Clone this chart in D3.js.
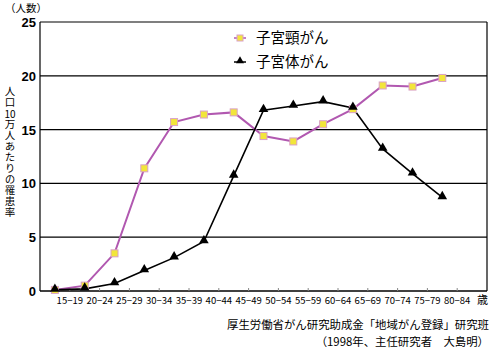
<!DOCTYPE html>
<html>
<head>
<meta charset="utf-8">
<script src="https://cdn.jsdelivr.net/npm/d3@7"></script>
<style>
  body { margin: 0; background: #fff; }
  svg text { font-family: "Noto Sans CJK JP", "Noto Sans", sans-serif; }
  .vert { writing-mode: vertical-rl; text-orientation: upright; }
</style>
</head>
<body>
<svg id="chart" width="492" height="352"></svg>
<script>
// age groups and values (per 100k)
var ages = ["15-19", "20-24", "25-29", "30-34", "35-39", "40-44", "45-49",
            "50-54", "55-59", "60-64", "65-69", "70-74", "75-79", "80-84"];
var cervix = [0.1, 0.5, 3.5, 11.4, 15.7, 16.4, 16.6, 14.4, 13.9, 15.5, 16.9, 19.1, 19.0, 19.8];
var corpus = [0.1, 0.2, 0.7, 1.9, 3.1, 4.6, 10.7, 16.8, 17.2, 17.6, 17.0, 13.2, 10.9, 8.7];
var yTicks = [0, 5, 10, 15, 20, 25];
var seriesNames = ["子宮頸がん", "子宮体がん"];
// vertical title in three pieces; the middle "10" is set horizontally
var yTitleParts = ["人口", "10", "万人あたりの罹患率"];
var sourceLines = ["厚生労働省がん研究助成金「地域がん登録」研究班", "（1998年、主任研究者　大島明）"];

var svg = d3.select("#chart");
// note: "top" is taken by window.top, so plot_* names
var plot_left = 40, plot_right = 487, plot_top = 22, plot_bottom = 291;

// extra slot at the end, the chart leaves one empty band after the last point
var x_scale = d3.scaleBand().domain(ages.concat(["歳"])).range([plot_left, plot_right]);
var bw = x_scale.bandwidth();
var y_scale = d3.scaleLinear().domain([0, 25]).range([plot_bottom, plot_top]);

// gridlines
svg.selectAll("line.grid")
    .data(yTicks.filter(function(d) { return d > 0; }))
    .enter()
    .append("line")
    .attr("class", "grid")
    .attr("x1", plot_left).attr("x2", plot_right)
    .attr("y1", function(d) { return y_scale(d); })
    .attr("y2", function(d) { return y_scale(d); })
    .attr("stroke", "#000").attr("stroke-width", 1.2);

// frame: left axis, right border, bottom axis
svg.append("line").attr("x1", plot_left).attr("x2", plot_left).attr("y1", plot_top).attr("y2", plot_bottom)
    .attr("stroke", "#000").attr("stroke-width", 1.2);
svg.append("line").attr("x1", plot_right).attr("x2", plot_right).attr("y1", plot_top).attr("y2", plot_bottom)
    .attr("stroke", "#000").attr("stroke-width", 1.2);
svg.append("line").attr("x1", plot_left).attr("x2", plot_right).attr("y1", plot_bottom).attr("y2", plot_bottom)
    .attr("stroke", "#000").attr("stroke-width", 1.5);

// small ticks at band edges
svg.selectAll("line.xtick")
    .data(ages)
    .enter()
    .append("line")
    .attr("class", "xtick")
    .attr("x1", function(d) { return x_scale(d) + bw; })
    .attr("x2", function(d) { return x_scale(d) + bw; })
    .attr("y1", plot_bottom - 3).attr("y2", plot_bottom)
    .attr("stroke", "#888");

// x labels (sit on the right edge of each band, like the original)
svg.selectAll("text.xlab")
    .data(ages)
    .enter()
    .append("text")
    .attr("class", "xlab")
    .attr("x", function(d) { return x_scale(d) + bw; })
    .attr("y", 304)
    .attr("text-anchor", "middle")
    .attr("font-size", 9.5)
    .text(function(d) { return d.replace("-", "−"); });
svg.append("text")
    .attr("x", 488).attr("y", 304)
    .attr("text-anchor", "end")
    .attr("font-size", 11)
    .text("歳");

// y labels
svg.selectAll("text.ylab")
    .data(yTicks)
    .enter()
    .append("text")
    .attr("class", "ylab")
    .attr("x", 36)
    .attr("y", function(d) { return y_scale(d) + 5; })
    .attr("text-anchor", "end")
    .attr("font-size", 13)
    .attr("font-weight", "bold")
    .style("font-family", "'Liberation Sans', Arial, sans-serif")
    .text(function(d) { return d; });

svg.append("text")
    .attr("x", 26).attr("y", 12)
    .attr("text-anchor", "middle")
    .attr("font-size", 10.5)
    .text("（人数）");

// vertical axis title
svg.append("text").attr("class", "vert")
    .attr("x", 10).attr("y", 86)
    .attr("font-size", 10.5).attr("letter-spacing", 0.5)
    .text(yTitleParts[0]);
svg.append("text")
    .attr("x", 10).attr("y", 118)
    .attr("text-anchor", "middle")
    .attr("font-size", 10)
    .text(yTitleParts[1]);
svg.append("text").attr("class", "vert")
    .attr("x", 10).attr("y", 119)
    .attr("font-size", 10.5).attr("letter-spacing", 0.5)
    .text(yTitleParts[2]);

// lines
var line = d3.line()
    .x(function(d, i) { return x_scale(ages[i]) + bw / 2; })
    .y(function(d) { return y_scale(d); });

svg.append("path").datum(cervix)
    .attr("d", line)
    .attr("fill", "none")
    .attr("stroke", "#b158b0")
    .attr("stroke-width", 2);
svg.append("path").datum(corpus)
    .attr("d", line)
    .attr("fill", "none")
    .attr("stroke", "#000")
    .attr("stroke-width", 1.6);

var tri = d3.symbol().type(d3.symbolTriangle).size(40);

svg.selectAll("rect.cerv")
    .data(cervix)
    .enter()
    .append("rect")
    .attr("class", "cerv")
    .attr("x", function(d, i) { return x_scale(ages[i]) + bw / 2 - 3.5; })
    .attr("y", function(d) { return y_scale(d) - 3.5; })
    .attr("width", 7).attr("height", 7)
    .attr("fill", "#f2e63a")
    .attr("stroke", "#d9a0c8")
    .attr("stroke-width", 1);

svg.selectAll("path.corp")
    .data(corpus)
    .enter()
    .append("path")
    .attr("class", "corp")
    .attr("d", tri)
    .attr("transform", function(d, i) {
        return "translate(" + (x_scale(ages[i]) + bw / 2) + "," + (y_scale(d) - 1) + ")";
    })
    .attr("fill", "#000");

// legend
var leg = svg.append("g");
leg.append("line").attr("x1", 234).attr("x2", 246).attr("y1", 38).attr("y2", 38)
    .attr("stroke", "#b158b0").attr("stroke-width", 1.5);
leg.append("rect").attr("x", 237).attr("y", 35).attr("width", 6).attr("height", 6)
    .attr("fill", "#f2e63a").attr("stroke", "#d9a0c8");
leg.append("line").attr("x1", 234).attr("x2", 246).attr("y1", 62).attr("y2", 62)
    .attr("stroke", "#000").attr("stroke-width", 1.5);
leg.append("path").attr("d", d3.symbol().type(d3.symbolTriangle).size(28))
    .attr("transform", "translate(240,61)");
leg.selectAll("text")
    .data(seriesNames)
    .enter()
    .append("text")
    .attr("x", 256)
    .attr("y", function(d, i) { return 43 + i * 24; })
    .attr("font-size", 14.5)
    .text(function(d) { return d; });

// source note
svg.selectAll("text.src")
    .data(sourceLines)
    .enter()
    .append("text")
    .attr("class", "src")
    .attr("x", 489)
    .attr("y", function(d, i) { return 329 + i * 17; })
    .attr("text-anchor", "end")
    .attr("font-size", 11.4)
    .text(function(d) { return d; });
</script>
</body>
</html>
